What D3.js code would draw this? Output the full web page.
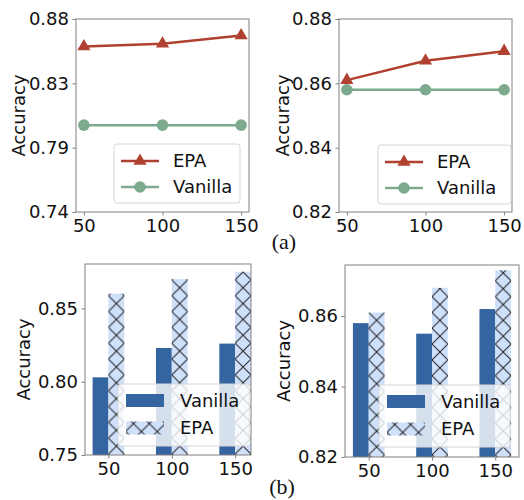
<!DOCTYPE html>
<html>
<head>
<meta charset="utf-8">
<script src="https://cdn.jsdelivr.net/npm/d3@7"></script>
<style>
  body { margin: 0; background: #fff; }
  text { font-family: "DejaVu Sans", sans-serif; }
</style>
</head>
<body>
<div id="chart"></div>
<script>
// data
var sizes = [50, 100, 150];
var sizeLabels = ["50", "100", "150"];

var lineA_epa = [0.860, 0.862, 0.868];
var lineA_vanilla = [0.803, 0.803, 0.803];
var lineA_ticks = [0.74, 0.78667, 0.83333, 0.88];

var lineB_epa = [0.861, 0.867, 0.870];
var lineB_vanilla = [0.858, 0.858, 0.858];
var lineB_ticks = [0.82, 0.84, 0.86, 0.88];

var barA_vanilla = [0.803, 0.823, 0.826];
var barA_epa = [0.860, 0.870, 0.875];
var barA_ticks = [0.75, 0.80, 0.85];

var barB_vanilla = [0.858, 0.855, 0.862];
var barB_epa = [0.861, 0.868, 0.873];
var barB_ticks = [0.82, 0.84, 0.86];

var red = "#b0402f", green = "#7daa8e";
var dark = "#3565a0", light = "#cfe0fb";
var spine = "#808080";
var fs = "18px";

var svg = d3.select("#chart").append("svg").attr("width", 524).attr("height", 500);
var defs = svg.append("defs");

var drawFrame = function(g, x, y, yTicks, xTickVals, labelX) {
  var w = x.range()[1] - x.range()[0];
  var h = y.range()[0] - y.range()[1];

  var yAxis = g.append("g")
    .call(d3.axisLeft(y).tickValues(yTicks).tickFormat(d3.format(".2f")).tickSizeOuter(0).tickSize(3.5).tickPadding(3.5));
  var xAxis = g.append("g").attr("transform", "translate(0," + h + ")")
    .call(d3.axisBottom(x).tickValues(xTickVals).tickFormat((d, i) => sizeLabels[i]).tickSizeOuter(0).tickSize(3.5).tickPadding(3.5));
  [xAxis, yAxis].forEach((a) => {
    a.select(".domain").remove();
    a.selectAll("line").attr("stroke", spine);
    a.selectAll("text").style("font-size", fs).attr("fill", "#111");
  });

  g.append("rect").attr("width", w).attr("height", h)
    .attr("fill", "none").attr("stroke", spine).attr("stroke-width", 1);

  g.append("text")
    .attr("transform", "translate(" + labelX + "," + (h / 2) + ") rotate(-90)")
    .attr("text-anchor", "middle").attr("dy", "0.35em")
    .style("font-size", fs).attr("fill", "#111")
    .text("Accuracy");
};

var linePanel = function(left, top, right, bottom, yDom, yTicks, epa, vanilla, labelX, leg) {
  var g = svg.append("g").attr("transform", "translate(" + left + "," + top + ")");
  var x = d3.scaleLinear().domain([45, 155]).range([0, right - left]);
  var y = d3.scaleLinear().domain(yDom).range([bottom - top, 0]);

  var line = d3.line().x((d, i) => x(sizes[i])).y((d) => y(d));

  g.append("path").datum(vanilla).attr("d", line)
    .attr("fill", "none").attr("stroke", green).attr("stroke-width", 2.5);
  g.selectAll(".vdot").data(vanilla).enter().append("circle")
    .attr("cx", (d, i) => x(sizes[i])).attr("cy", (d) => y(d)).attr("r", 5.8).attr("fill", green);

  g.append("path").datum(epa).attr("d", line)
    .attr("fill", "none").attr("stroke", red).attr("stroke-width", 2.5);
  var tri = d3.symbol().type(d3.symbolTriangle).size(75);
  g.selectAll(".edot").data(epa).enter().append("path")
    .attr("d", tri)
    .attr("transform", (d, i) => "translate(" + x(sizes[i]) + "," + y(d) + ")")
    .attr("fill", red);

  drawFrame(g, x, y, yTicks, sizes, labelX - left);

  // legend
  var lg = svg.append("g").attr("transform", "translate(" + leg[0] + "," + leg[1] + ")");
  lg.append("rect").attr("width", leg[2]).attr("height", 59).attr("rx", 3)
    .attr("fill", "#fff").attr("fill-opacity", 0.8).attr("stroke", "#d6d6d6");
  var rows = [{ name: "EPA", c: red, m: "tri" }, { name: "Vanilla", c: green, m: "dot" }];
  rows.forEach((r, i) => {
    var yy = 17 + i * 26;
    lg.append("line").attr("x1", 7).attr("x2", 45).attr("y1", yy).attr("y2", yy)
      .attr("stroke", r.c).attr("stroke-width", 2.5);
    if (r.m === "tri") {
      lg.append("path").attr("d", tri).attr("transform", "translate(26," + yy + ")").attr("fill", r.c);
    } else {
      lg.append("circle").attr("cx", 26).attr("cy", yy).attr("r", 5.8).attr("fill", r.c);
    }
    lg.append("text").attr("x", 59).attr("y", yy).attr("dy", "0.35em")
      .style("font-size", fs).attr("fill", "#111").text(r.name);
  });
};

var barPanel = function(id, left, top, right, bottom, xDom, yDom, yTicks, vanilla, epa, labelX, leg) {
  var g = svg.append("g").attr("transform", "translate(" + left + "," + top + ")");
  var x = d3.scaleLinear().domain(xDom).range([0, right - left]);
  var y = d3.scaleLinear().domain(yDom).range([bottom - top, 0]);
  var bw = x(0.25) - x(0);

  var pat = defs.append("pattern").attr("id", id)
    .attr("patternUnits", "userSpaceOnUse")
    .attr("x", x(0)).attr("y", 0).attr("width", bw).attr("height", bw);
  pat.append("rect").attr("width", bw).attr("height", bw).attr("fill", light);
  pat.append("path")
    .attr("d", "M0,0L" + bw + "," + bw + "M" + bw + ",0L0," + bw)
    .attr("stroke", "#222").attr("stroke-width", 1).attr("fill", "none");

  var cl = "clip-" + id;
  defs.append("clipPath").attr("id", cl).append("rect")
    .attr("width", right - left).attr("height", bottom - top);
  var bars = g.append("g").attr("clip-path", "url(#" + cl + ")");

  bars.selectAll(".v").data(vanilla).enter().append("rect")
    .attr("x", (d, i) => x(i - 0.25)).attr("width", bw)
    .attr("y", (d) => y(d)).attr("height", (d) => y(yDom[0]) - y(d))
    .attr("fill", dark);
  bars.selectAll(".e").data(epa).enter().append("rect")
    .attr("x", (d, i) => x(i)).attr("width", bw)
    .attr("y", (d) => y(d)).attr("height", (d) => y(yDom[0]) - y(d))
    .attr("fill", "url(#" + id + ")");

  drawFrame(g, x, y, yTicks, [0, 1, 2], labelX - left);

  // legend, drawn inside the panel group so the hatch lines up
  var lg = g.append("g").attr("transform", "translate(" + (leg[0] - left) + "," + (leg[1] - top) + ")");
  lg.append("rect").attr("width", leg[2]).attr("height", 62).attr("rx", 3)
    .attr("fill", "#fff").attr("fill-opacity", 0.8).attr("stroke", "#d6d6d6");
  var rows = [{ name: "Vanilla", f: dark }, { name: "EPA", f: "url(#" + id + ")" }];
  rows.forEach((r, i) => {
    var yy = 10 + i * 27.5;
    lg.append("rect").attr("x", 8).attr("y", yy).attr("width", 38).attr("height", 13).attr("fill", r.f);
    lg.append("text").attr("x", 62).attr("y", yy + 6.5).attr("dy", "0.35em")
      .style("font-size", fs).attr("fill", "#111").text(r.name);
  });
};

linePanel(76, 19, 249, 212, [0.74, 0.88], lineA_ticks, lineA_epa, lineA_vanilla, 19, [114, 144, 126]);
linePanel(339, 19, 512, 212, [0.82, 0.88], lineB_ticks, lineB_epa, lineB_vanilla, 283, [378, 145, 133]);

barPanel("hatchA", 85, 264, 251, 455, [-0.37, 2.25], [0.75, 0.8803], barA_ticks, barA_vanilla, barA_epa, 24, [118, 384, 132]);
barPanel("hatchB", 345, 265, 519, 457, [-0.375, 2.375], [0.82, 0.8745], barB_ticks, barB_vanilla, barB_epa, 284, [379, 385, 131]);

svg.append("text").attr("x", 284).attr("y", 249).attr("text-anchor", "middle")
  .style("font-family", "'Liberation Serif', serif").style("font-size", "22px").attr("fill", "#111").text("(a)");
svg.append("text").attr("x", 282).attr("y", 494).attr("text-anchor", "middle")
  .style("font-family", "'Liberation Serif', serif").style("font-size", "22px").attr("fill", "#111").text("(b)");
</script>
</body>
</html>
